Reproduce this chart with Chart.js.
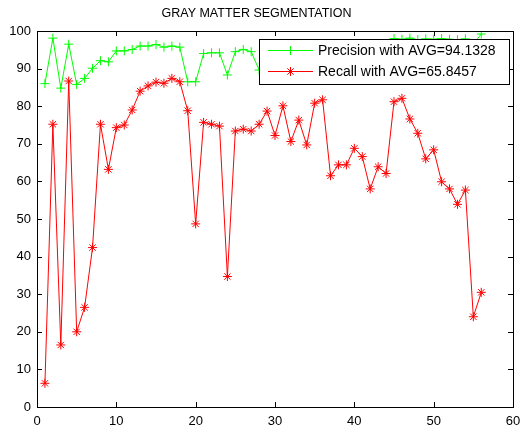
<!DOCTYPE html>
<html>
<head>
<meta charset="utf-8">
<title>Gray Matter Segmentation</title>
<script src="https://cdn.jsdelivr.net/npm/chart.js@4/dist/chart.umd.min.js"></script>
<style>
    html, body { margin: 0; padding: 0; background: #fff; }
    #wrap { width: 521px; height: 431px; }
</style>
</head>
<body>
<div id="wrap"><canvas id="segChart" width="521" height="431"></canvas></div>
<script>
// image index on the x axis
const imageIndex = [1, 2, 3, 4, 5, 6, 7, 8, 9, 10, 11, 12, 13, 14, 15, 16, 17, 18, 19, 20,
    21, 22, 23, 24, 25, 26, 27, 28, 29, 30, 31, 32, 33, 34, 35, 36, 37, 38, 39, 40,
    41, 42, 43, 44, 45, 46, 47, 48, 49, 50, 51, 52, 53, 54, 55, 56];

// precision (%) - values 29..44 sit behind the legend, estimated
const precision = [86.0, 98.1, 84.8, 96.5, 85.8, 87.4, 90.1, 92.1, 91.8, 94.7,
    94.7, 95.1, 96.0, 96.0, 96.4, 95.7, 96.0, 95.7, 86.5, 86.5,
    94.0, 94.2, 94.2, 88.3, 94.5, 95.1, 94.5, 89.6, 93.0, 95.0,
    96.0, 94.0, 95.0, 92.0, 96.0, 95.0, 93.0, 94.0, 95.0, 91.0,
    93.0, 94.0, 92.0, 92.0, 98.0, 97.8, 98.1, 97.7, 97.9, 97.8,
    98.0, 97.8, 97.7, 97.9, 96.5, 99.2];

// recall (%)
const recall = [6.3, 75.2, 16.5, 86.7, 20.0, 26.5, 42.4, 75.2, 63.2, 74.3,
    75.0, 79.0, 84.0, 85.4, 86.4, 86.1, 87.4, 86.5, 78.8, 48.7,
    75.7, 75.2, 74.7, 34.7, 73.4, 73.9, 73.4, 75.2, 78.7, 72.2,
    80.1, 70.6, 76.3, 69.7, 80.8, 81.7, 61.5, 64.4, 64.4, 68.8,
    66.6, 58.0, 63.9, 62.1, 81.2, 82.1, 76.6, 72.8, 66.0, 68.4,
    59.9, 58.0, 53.9, 57.7, 24.0, 30.5];

const xTicks = [0, 10, 20, 30, 40, 50, 60];
const yTicks = [0, 10, 20, 30, 40, 50, 60, 70, 80, 90, 100];

const legendLabels = ["Precision with AVG=94.1328", "Recall with AVG=65.8457"];
const titleText = "GRAY MATTER SEGMENTATION";

const FONT = "'Liberation Sans', Arial, Helvetica, sans-serif";

document.addEventListener("DOMContentLoaded", function () {
    const ctx = document.getElementById("segChart").getContext("2d");

    function toPoints(values) {
        return values.map((v, i) => ({ x: imageIndex[i], y: v }));
    }

    // little marker drawer for the legend
    function drawMarker(c, style, x, y, r) {
        c.beginPath();
        c.moveTo(x - r, y); c.lineTo(x + r, y);
        c.moveTo(x, y - r); c.lineTo(x, y + r);
        if (style === "star") {
            const d = r * 0.7071;
            c.moveTo(x - d, y - d); c.lineTo(x + d, y + d);
            c.moveTo(x - d, y + d); c.lineTo(x + d, y - d);
        }
        c.stroke();
    }

    // box round the axes, inward ticks, and the boxed legend
    const matlabAxes = {
        id: "matlabAxes",
        afterDatasetsDraw(chart) {
            const c = chart.ctx;
            const a = chart.chartArea;
            const xs = chart.scales.x;
            const ys = chart.scales.y;
            const tick = 5;

            c.save();
            c.strokeStyle = "#000";
            c.lineWidth = 1;
            c.strokeRect(Math.round(a.left) + 0.5, Math.round(a.top) + 0.5,
                Math.round(a.right - a.left), Math.round(a.bottom - a.top));

            c.beginPath();
            xTicks.forEach(v => {
                const px = Math.round(xs.getPixelForValue(v)) + 0.5;
                c.moveTo(px, a.bottom); c.lineTo(px, a.bottom - tick);
                c.moveTo(px, a.top); c.lineTo(px, a.top + tick);
            });
            yTicks.forEach(v => {
                const py = Math.round(ys.getPixelForValue(v)) + 0.5;
                c.moveTo(a.left, py); c.lineTo(a.left + tick, py);
                c.moveTo(a.right, py); c.lineTo(a.right - tick, py);
            });
            c.stroke();

            // legend
            const lx = 259.5, ly = 39.5, lw = 250, lh = 45;
            c.fillStyle = "#fff";
            c.fillRect(lx, ly, lw, lh);
            c.strokeRect(lx, ly, lw, lh);

            const rows = [
                { y: 50.5, color: "#00ff00", style: "cross" },
                { y: 71.5, color: "#ff0000", style: "star" }
            ];
            c.font = "14px " + FONT;
            c.textBaseline = "middle";
            c.textAlign = "left";
            rows.forEach((row, i) => {
                c.strokeStyle = row.color;
                c.beginPath();
                c.moveTo(268, row.y); c.lineTo(313, row.y);
                c.stroke();
                drawMarker(c, row.style, 290.5, row.y, 4.5);
                c.fillStyle = "#000";
                c.fillText(legendLabels[i], 318, row.y + 1);
            });
            c.restore();
        }
    };

    new Chart(ctx, {
        type: "line",
        data: {
            datasets: [{
                label: legendLabels[0],
                data: toPoints(precision),
                borderColor: "#00ff00",
                backgroundColor: "#00ff00",
                borderWidth: 1,
                pointStyle: "cross",
                pointRadius: 4.5,
                pointBorderWidth: 1,
                tension: 0
            }, {
                label: legendLabels[1],
                data: toPoints(recall),
                borderColor: "#ff0000",
                backgroundColor: "#ff0000",
                borderWidth: 1,
                pointStyle: "star",
                pointRadius: 4.5,
                pointBorderWidth: 1,
                tension: 0
            }]
        },
        options: {
            responsive: false,
            animation: false,
            events: [],
            layout: { padding: { left: 0, right: 8, top: 0, bottom: 0 } },
            scales: {
                x: {
                    type: "linear",
                    min: 0,
                    max: 60,
                    afterFit(scale) {
                        scale.height = 24;
                        scale.paddingLeft = 0;
                        scale.paddingRight = 0;
                    },
                    afterBuildTicks(scale) { scale.ticks = xTicks.map(v => ({ value: v })); },
                    grid: { display: false, drawTicks: false },
                    border: { display: false },
                    ticks: {
                        color: "#000",
                        padding: 7,
                        maxRotation: 0,
                        font: { family: FONT, size: 13 }
                    }
                },
                y: {
                    min: 0,
                    max: 100,
                    afterFit(scale) {
                        scale.width = 37;
                        scale.paddingTop = 0;
                        scale.paddingBottom = 0;
                    },
                    afterBuildTicks(scale) { scale.ticks = yTicks.map(v => ({ value: v })); },
                    grid: { display: false, drawTicks: false },
                    border: { display: false },
                    ticks: {
                        color: "#000",
                        padding: 6,
                        font: { family: FONT, size: 13 }
                    }
                }
            },
            plugins: {
                legend: { display: false },
                tooltip: { enabled: false },
                title: {
                    display: true,
                    text: titleText,
                    color: "#000",
                    font: { family: FONT, size: 12.5, weight: "normal" },
                    padding: { top: 6, bottom: 10 }
                }
            }
        },
        plugins: [matlabAxes]
    });
});
</script>
</body>
</html>
